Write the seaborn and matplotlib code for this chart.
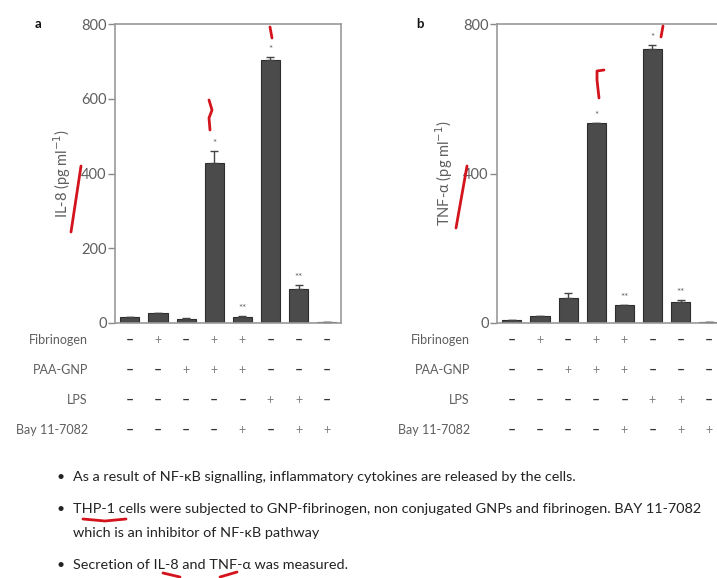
import numpy as np
import pandas as pd
import seaborn as sns
import matplotlib.pyplot as plt
from matplotlib.lines import Line2D

# data
groups = ['g1', 'g2', 'g3', 'g4', 'g5', 'g6', 'g7', 'g8']
il8_mean = [15, 28, 12, 429, 15, 703, 92, 4]
il8_err = [0, 0, 2, 31, 3, 10, 11, 0]
il8_marks = ['', '', '', '*', '**', '*', '**', '']
tnf_mean = [7, 19, 67, 534, 47, 733, 57, 4]
tnf_err = [0, 0, 12, 0, 2, 11, 5, 0]
tnf_marks = ['', '', '', '*', '**', '*', '**', '']

row_names = ['Fibrinogen', 'PAA-GNP', 'LPS', 'Bay 11-7082']
fibrinogen = ['-', '+', '-', '+', '+', '-', '-', '-']
paa_gnp = ['-', '-', '+', '+', '+', '-', '-', '-']
lps = ['-', '-', '-', '-', '-', '+', '+', '-']
bay = ['-', '-', '-', '-', '+', '-', '+', '+']

il8_ticks = [0, 200, 400, 600, 800]
tnf_ticks = [0, 400, 800]

bullets = [
    ['As a result of NF-\u03baB signalling, inflammatory cytokines are released by the cells.'],
    ['THP-1 cells were subjected to GNP-fibrinogen, non conjugated GNPs and fibrinogen. BAY 11-7082',
     'which is an inhibitor of NF-\u03baB pathway'],
    ['Secretion of IL-8 and TNF-\u03b1 was measured.'],
]

sns.set_theme(style='ticks')
plt.rcParams['font.family'] = ['Lato', 'DejaVu Sans']

W, H = 717, 578
fig = plt.figure(figsize=(W / 100, H / 100), dpi=100)

BAR = '#4b4b4b'
GREY = '#5e5e5e'


def px(x, y):
    # pixel position (top-left origin) -> figure fraction
    return x / W, 1 - y / H


def panel(left, means, errs, marks, ticks, ylabel, letter):
    ax = fig.add_axes([left / W, 1 - 323 / H, 226 / W, 299 / H])
    df = pd.DataFrame({'group': groups, 'value': means})
    sns.barplot(data=df, x='group', y='value', ax=ax, color=BAR, width=0.68,
                errorbar=None, edgecolor='#2e2e2e', linewidth=0.8, saturation=1)
    xs = np.arange(len(groups))
    ax.errorbar(xs, means, yerr=[np.zeros(len(errs)), errs], fmt='none',
                ecolor='#444444', elinewidth=1, capsize=3, capthick=1)
    for x, m, e, s in zip(xs, means, errs, marks):
        if s:
            ax.text(x, m + e + 8, s, ha='center', va='bottom', fontsize=7,
                    color=GREY)
    ax.set_xlim(-0.53, 7.51)
    ax.set_ylim(0, 800)
    ax.set_yticks(ticks)
    ax.set_xticks([])
    ax.set_xlabel('')
    ax.set_ylabel(ylabel, fontsize=10.5, color=GREY)
    ax.yaxis.set_label_coords(-0.186, 0.5)
    ax.tick_params(axis='y', direction='out', length=5, width=1,
                   color='#888888', labelcolor=GREY, labelsize=10.5, pad=1)
    for sp in ax.spines.values():
        sp.set_color('#999999')
        sp.set_linewidth(1.2)
    ax.text(-0.34, 1.0, letter, transform=ax.transAxes, fontsize=9.5,
            fontweight='bold', color='#111111', va='center', ha='center')

    rows = [fibrinogen, paa_gnp, lps, bay]
    row_y = [-0.057, -0.157, -0.257, -0.357]
    trans = ax.get_xaxis_transform()
    for name, signs, yy in zip(row_names, rows, row_y):
        ax.text(-0.12, yy, name, transform=ax.transAxes, ha='right',
                va='center', fontsize=9, color=GREY, clip_on=False)
        for x, s in zip(xs, signs):
            if s == '-':
                ax.text(x, yy, '\u2013', transform=trans, ha='center',
                        va='center', fontsize=10, fontweight='bold',
                        color='#333333', clip_on=False)
            else:
                ax.text(x, yy, '+', transform=trans, ha='center',
                        va='center', fontsize=9, color='#808080',
                        clip_on=False)
    return ax


panel(115, il8_mean, il8_err, il8_marks, il8_ticks,
      'IL-8 (pg ml$^{-1}$)', 'a')
panel(497, tnf_mean, tnf_err, tnf_marks, tnf_ticks,
      'TNF-\u03b1 (pg ml$^{-1}$)', 'b')

# bullet text
bullet_y = [477, 509, 565]
for lines, yy in zip(bullets, bullet_y):
    fig.text(*px(61, yy), '\u2022', fontsize=10, color='#222222',
             ha='center', va='center')
    for k, txt in enumerate(lines):
        fig.text(*px(73, yy + 24 * k), txt, fontsize=10.4, color='#222222',
                 ha='left', va='center')

# red pen strokes on the slide
pen = dict(color='#d4141c', linewidth=2, solid_capstyle='round',
           transform=fig.transFigure)
strokes = [
    [(81, 166), (71, 232)],
    [(467, 166), (456, 228)],
    [(209, 100), (212, 110), (209, 118), (210, 130)],
    [(270, 27), (272, 38)],
    [(599, 98), (597, 80), (597, 71), (604, 70)],
    [(663, 26), (661, 37)],
    [(83, 519), (105, 521), (126, 519)],
    [(163, 573), (180, 577)],
    [(220, 577), (237, 572)],
]
for pts in strokes:
    xs_, ys_ = zip(*[px(a, b) for a, b in pts])
    fig.add_artist(Line2D(xs_, ys_, **pen))

fig.savefig('out.png', dpi=100)
